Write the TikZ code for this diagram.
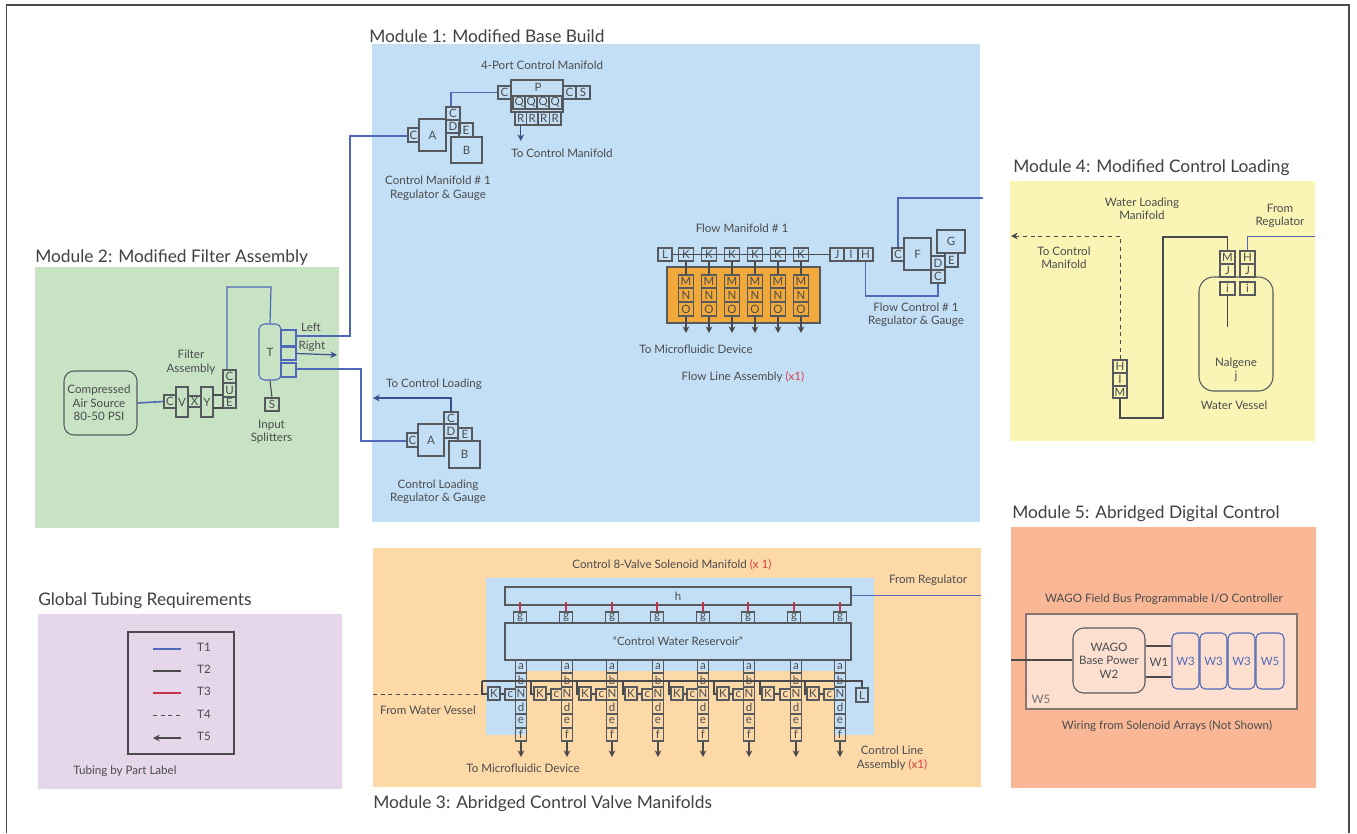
\documentclass[tikz,border=0pt]{standalone}
\usepackage{fontspec}
\setmainfont{Lato}
\usetikzlibrary{arrows.meta,calc}
\definecolor{linec}{HTML}{565A5E}
\definecolor{txt}{HTML}{4A4C4E}
\definecolor{tubeb}{HTML}{4F68BA}
\definecolor{tubek}{HTML}{4A4A4C}
\definecolor{tuber}{HTML}{C8324A}
\definecolor{bgone}{HTML}{C3DFF5}
\definecolor{bgtwo}{HTML}{C7E3C3}
\definecolor{bgthree}{HTML}{FDD9A8}
\definecolor{bgfour}{HTML}{FAF5B4}
\definecolor{bgfive}{HTML}{F9B795}
\definecolor{bgglobal}{HTML}{E5D6EA}
\definecolor{orangeb}{HTML}{F2A93B}
\definecolor{redt}{HTML}{D8404A}
\tikzset{
 x=0.75pt,y=-0.75pt,
 part/.style={draw=linec,line width=0.8pt,inner sep=0pt,text=txt,font=\fontsize{8.6}{8.6}\selectfont},
 bluepart/.style={part,draw=tubeb},
 band/.style={inner sep=0pt,draw=none},
 title/.style={text=txt!85!black,font=\fontsize{13}{14}\selectfont,inner sep=0pt},
 lab/.style={text=txt,font=\fontsize{8.7}{10.1}\selectfont,inner sep=0pt,align=center},
 tb/.style={draw=tubeb,line width=0.9pt},
 tbthin/.style={draw=tubeb,line width=0.75pt},
 tk/.style={draw=tubek,line width=0.8pt},
 tr/.style={draw=tuber,line width=1.1pt},
 td/.style={draw=tubek,line width=0.7pt,dash pattern=on 3pt off 2.8pt},
 arrk/.style={-{Stealth[length=5pt,width=5pt]}},
 arrb/.style={-{Stealth[length=5pt,width=5pt]},draw=tubeb!75!black,line width=0.9pt},
}
\newcommand{\nb}[7][]{%
 \pgfmathsetmacro{\pw}{(#5-#3)*0.75}\pgfmathsetmacro{\ph}{(#6-#4)*0.75}%
 \node[part,#1,minimum width=\pw pt,minimum height=\ph pt,anchor=center] (#2) at ({(#3+#5)/2},{(#4+#6)/2}) {#7};}
\begin{document}
\begin{tikzpicture}
\useasboundingbox (0,0) rectangle (1357,833);
\fill[white] (0,0) rectangle (1357,833);
\draw[draw=tubek,line width=1.1pt] (6.5,833) -- (6.5,5) -- (1349,5) -- (1349,833);
% backgrounds
\nb[band,fill=bgone]{bgA}{372}{44}{980}{522}{}
\nb[band,fill=bgtwo]{bgB}{35}{267}{339}{528}{}
\nb[band,fill=bgthree]{bgC}{373}{548}{981}{787}{}
\nb[band,fill=bgfour]{bgD}{1010}{181}{1315}{441}{}
\nb[band,fill=bgfive]{bgE}{1011}{527}{1316}{788}{}
\nb[band,fill=bgglobal]{bgF}{38}{614}{342}{789}{}
\nb[band,fill=bgone]{bgG}{486}{578}{874}{735}{}
\nb[band,fill=bgthree]{bgH}{527}{671}{834}{735}{}
% titles
\node[title,anchor=west] (tA) at (369,36.5) {Module 1: Modified Base Build};
\node[title,anchor=west] (tB) at (35,258) {Module 2: Modified Filter Assembly};
\node[title,anchor=west] (tC) at (373,804) {Module 3: Abridged Control Valve Manifolds};
\node[title,anchor=west] (tD) at (1013,168) {Module 4: Modified Control Loading};
\node[title,anchor=west] (tE) at (1012,514) {Module 5: Abridged Digital Control};
\node[title,anchor=west] (tF) at (38,600.5) {Global Tubing Requirements};
% ---------- Module 2
\nb[rounded corners=7.5pt]{air}{64}{371}{137}{435}{}
\node[lab] (airl) at (99,403) {Compressed\\Air Source\\80-50 PSI};
\nb{fC}{164}{395}{176}{408}{C}
\nb{fV}{176}{387}{188}{417}{V}
\nb{fX}{188}{396}{201}{407}{X}
\nb{fY}{201}{387}{213}{417}{Y}
\nb{fCt}{223}{370}{236}{383}{C}
\nb{fU}{223}{383}{236}{397}{U}
\nb{fE}{223}{397}{236}{408}{E}
\nb[bluepart,rounded corners=4pt]{spT}{259}{324}{281}{380}{T}
\nb[bluepart]{sp1}{281}{330}{296}{346}{}
\nb[bluepart]{sp2}{281}{347}{296}{360}{}
\nb[bluepart]{sp3}{281}{363}{296}{377}{}
\nb{spS}{265}{398}{279}{411}{S}
\node[lab] (lf) at (191,362) {Filter\\Assembly};
\node[lab] (ls) at (271.5,432) {Input\\Splitters};
\node[lab] (lLeft) at (311,327) {Left};
\node[lab] (lRight) at (312,346) {Right};
\draw[tb,line width=1.2pt] (air.east) -- (fC.west);
\draw[tk] (fY.east |- 0,395) -- (fE.west |- 0,395);
\draw[tk] (fY.east |- 0,408) -- (fE.west |- 0,408);
\draw[tb] (fCt.north -| 227,0) -- (227,287) -- (271,287) -- (spT.north);
\draw[tk] (spT.south) -- (spS.north);
\draw[arrb] (sp2.east) -- (337,355);
% ---------- Module 1 control manifold
\nb{aC}{408}{128}{419}{142}{C}
\nb{aA}{419}{119}{446}{151}{A}
\nb{aCt}{446}{107}{460}{120}{C}
\nb{aD}{446}{120}{460}{133}{D}
\nb{aE}{459}{123}{473}{137}{E}
\nb{aB}{451}{137}{482}{163}{B}
\node[lab] (la) at (438,188.5) {Control Manifold \# 1\\Regulator \& Gauge};
\node[lab] (lp) at (542,65) {4-Port Control Manifold};
\nb{pP}{511}{80}{563}{112}{}
\node[part,draw=none] (pPt) at (538,87) {P};
\nb{pC}{498}{86}{511}{99}{C}
\nb{pC2}{563}{86}{576}{99}{C}
\nb{pS}{576}{86}{590}{99}{S}
\foreach \i/\xa in {1/513,2/525,3/537,4/549}{
 \pgfmathsetmacro{\xb}{\xa+12.5}
 \nb{pQ\i}{\xa}{96}{\xb}{109}{Q}
}
\foreach \i/\xa in {1/515,2/526.5,3/538,4/549.5}{
 \pgfmathsetmacro{\xb}{\xa+11.5}
 \nb{pR\i}{\xa}{112}{\xb}{125}{R}
}
\node[lab] (ltc) at (562,153) {To Control Manifold};
\coordinate (ptc) at (520.75,141);
\draw[arrb] (pR1.south) -- (ptc);
\draw[tb] (pC.west) -| (aCt.north -| 451,0);
% tube from splitter
\draw[tb] (sp1.east |- 0,336) -- (350,336) -- (350,136) -- (aC.west |- 0,136);
% ---------- Control loading
\nb{bC}{407}{433}{418}{447}{C}
\nb{bA}{418}{424}{444}{456}{A}
\nb{bCt}{444}{412}{458}{424}{C}
\nb{bD}{444}{424}{458}{438}{D}
\nb{bE}{458}{428}{472}{441}{E}
\nb{bB}{449}{441}{480}{468}{B}
\node[lab] (lb) at (438,492) {Control Loading\\Regulator \& Gauge};
\node[lab] (ltl) at (434,384) {To Control Loading};
\coordinate (ptl) at (373,398);
\draw[arrb] (bCt.north) |- (ptl);
\draw[tb] (sp3.east |- 0,369) -- (361,369) -- (361,441) -- (bC.west |- 0,441);
% ---------- Flow manifold
\node[lab] (lfm) at (742,228) {Flow Manifold \# 1};
\nb{fmL}{658}{248}{672}{261}{L}
\nb{fmJ}{830}{248}{844}{261}{J}
\nb{fmI}{844}{248}{858}{261}{I}
\nb{fmH}{858}{248}{873}{261}{H}
\draw[tk] (fmL.east) -- (fmJ.west);
\nb[fill=orangeb]{orb}{667}{267}{820}{323}{}
\foreach \i/\xc in {1/686,2/709,3/732,4/755,5/778,6/801}{
 \pgfmathsetmacro{\xa}{\xc-7.5}\pgfmathsetmacro{\xb}{\xc+7.5}
 \nb{fk\i}{\xa}{248}{\xb}{261}{K}
 \nb{fm\i}{\xa}{275}{\xb}{288}{M}
 \nb{fn\i}{\xa}{288}{\xb}{302}{N}
 \nb{fo\i}{\xa}{302}{\xb}{316}{O}
 \coordinate (fe\i) at (\xc,333);
 \draw[tk] (fk\i.south) -- (fm\i.north);
 \draw[tk,arrk] (fo\i.south) -- (fe\i);
}
\node[lab] (ltm) at (696,349) {To Microfluidic Device};
\node[lab] (lfa) at (743,377) {Flow Line Assembly {\color{redt}(x1)}};
\nb{gC}{892}{248}{904}{261}{C}
\nb{gF}{904}{238}{931}{270}{F}
\nb{gG}{937}{230}{965}{253}{G}
\nb{gE}{945}{253}{958}{267}{E}
\nb{gD}{931}{256}{945}{270}{D}
\nb{gCb}{931}{270}{945}{283}{C}
\node[lab] (lg) at (916,315) {Flow Control \# 1\\Regulator \& Gauge};
\coordinate (gin) at (983,198);
\draw[tb] (gC.north) |- (gin);
\draw[tb] (gCb.south) -- (938,296) -- (865.5,296) -- (fmH.south);
% ---------- Module 4
\node[lab] (lw) at (1142,209) {Water Loading\\Manifold};
\node[lab] (lfr) at (1280,216) {From\\Regulator};
\node[lab] (ltm2) at (1064,257.5) {To Control\\Manifold};
\nb[rounded corners=11pt]{ves}{1199}{277}{1273}{391}{}
\nb{wH}{1113}{360}{1127}{373}{H}
\nb{wI}{1113}{373}{1127}{386}{I}
\nb{wM}{1113}{386}{1127}{398}{M}
\nb{wM2}{1220}{251}{1235}{264}{M}
\nb{wJ2}{1220}{264}{1235}{277}{J}
\nb{wi2}{1220}{282}{1235}{295}{i}
\nb{wH3}{1240}{251}{1255}{264}{H}
\nb{wJ3}{1240}{264}{1255}{277}{J}
\nb{wi3}{1240}{282}{1255}{295}{i}
\node[lab] (lng) at (1236,370) {Nalgene\\j};
\node[lab] (lwv) at (1234,405) {Water Vessel};
\coordinate (wout) at (1011,236);
\coordinate (wend) at (1227.5,327);
\coordinate (wreg) at (1315,236);
\draw[td,arrk] (wH.north) |- (wout);
\draw[tk] (wM.south) -- (1120,418) -- (1163,418) -- (1163,237) -- (1227.5,237) -- (wM2.north);
\draw[tk] (wi2.south) -- (wend);
\draw[tbthin] (wH3.north) |- (wreg);
% ---------- Module 3
\node[lab] (lcm) at (672,565) {Control 8-Valve Solenoid Manifold {\color{redt}(x 1)}};
\node[lab] (lfreg) at (928,580) {From Regulator};
\nb{vh}{505}{587}{851}{605}{h}
\nb{vres}{505}{623}{851}{660}{“Control Water Reservoir”}
\coordinate (vreg) at (981,595);
\draw[tbthin] (vh.east |- vreg) -- (vreg);
\nb{vL}{856}{688}{868}{702}{L}
\coordinate (vd) at (373,694);
\foreach \i/\xc/\xt/\xk/\xv in {1/521/520/494/482,2/567/566/540/531,3/612/612/585/577,4/658/657/631/623,5/703/703/677/669,6/749/748/723/714,7/796/794/768/760,8/840/840/813/805}{
 \pgfmathsetmacro{\xa}{\xc-5.5}\pgfmathsetmacro{\xb}{\xc+5.5}
 \pgfmathsetmacro{\xga}{\xt-6.5}\pgfmathsetmacro{\xgb}{\xt+6.5}
 \pgfmathsetmacro{\xka}{\xk-6}\pgfmathsetmacro{\xkb}{\xk+6}
 \pgfmathsetmacro{\xca}{\xc-16}
 \nb{vg\i}{\xga}{612}{\xgb}{623}{g}
 \draw[tr] (\xt,602) -- (vg\i.north);
 \nb{va\i}{\xa}{660}{\xb}{673}{a}
 \nb{vb\i}{\xa}{673}{\xb}{687}{b}
 \nb{vn\i}{\xa}{687}{\xb}{700}{N}
 \nb{vd\i}{\xa}{700}{\xb}{714}{d}
 \nb{ve\i}{\xa}{714}{\xb}{728}{e}
 \nb{vf\i}{\xa}{728}{\xb}{741}{f}
 \nb{vk\i}{\xka}{687}{\xkb}{700}{K}
 \nb{vc\i}{\xca}{689}{\xa}{700}{c}
 \coordinate (ve\i) at (\xc,757);
 \draw[tk,arrk] (vf\i.south) -- (ve\i);
 \draw[tk] (vk\i.east |- 0,694) -- (vc\i.west |- 0,694);
 \draw[tk] (\xv,681) |- (vk\i.west |- 0,694);
}
\draw[tk] (482,681) -| (vL.north);
\draw[td] (vd) -- (vk1.west |- vd);
\node[lab] (lwv2) at (428,710) {From Water Vessel};
\node[lab] (ltm3) at (523,768) {To Microfluidic Device};
\node[lab] (lcl) at (892,758) {Control Line\\Assembly {\color{redt}(x1)}};
% ---------- Module 5
\node[lab] (lwg) at (1164,599) {WAGO Field Bus Programmable I/O Controller};
\nb[draw=linec!70!bgfive,fill=bgfive!45!white,line width=1pt]{wb}{1026}{614}{1297}{709}{}
\nb[rounded corners=8pt]{wp}{1073}{628}{1145}{693}{}
\node[lab] (lwp) at (1109,660.5) {WAGO\\Base Power\\W2};
\nb[bluepart,rounded corners=4pt,text=tubeb]{w31}{1172}{633}{1199}{689}{W3}
\nb[bluepart,rounded corners=4pt,text=tubeb]{w32}{1200}{633}{1227}{689}{W3}
\nb[bluepart,rounded corners=4pt,text=tubeb]{w33}{1228}{633}{1255}{689}{W3}
\nb[bluepart,rounded corners=4pt,text=tubeb]{w55}{1256}{633}{1284}{689}{W5}
\node[lab] (lw1) at (1159,662) {W1};
\node[lab,text=txt!80!white] (lw5) at (1041,699) {W5};
\node[lab] (lwir) at (1167,726) {Wiring from Solenoid Arrays (Not Shown)};
\coordinate (win) at (1011,660);
\draw[tk,line width=1.3pt] (win) -- (wp.west |- win);
\draw[tk] (wp.east |- 0,646) -- (w31.west |- 0,646);
\draw[tk] (wp.east |- 0,677) -- (w31.west |- 0,677);
% ---------- Global
\nb[line width=1pt,draw=tubek]{gb}{128}{632}{234}{754}{}
\foreach \yy/\st/\nm/\yt in {649/tb/T1/647,671/tk/T2/669,693/tr/T3/691,715/td/T4/714}{
 \coordinate (gl\nm) at (153,\yy);
 \coordinate (gr\nm) at (181,\yy);
 \draw[\st] (gl\nm) -- (gr\nm);
 \node[lab] (gt\nm) at (204,\yt) {\nm};
}
\coordinate (glT5) at (153,738);
\coordinate (grT5) at (181,738);
\draw[tk,arrk] (grT5) -- (glT5);
\node[lab] (gtT5) at (204,736) {T5};
\node[lab] (ltb) at (125,771) {Tubing by Part Label};
\end{tikzpicture}
\end{document}
